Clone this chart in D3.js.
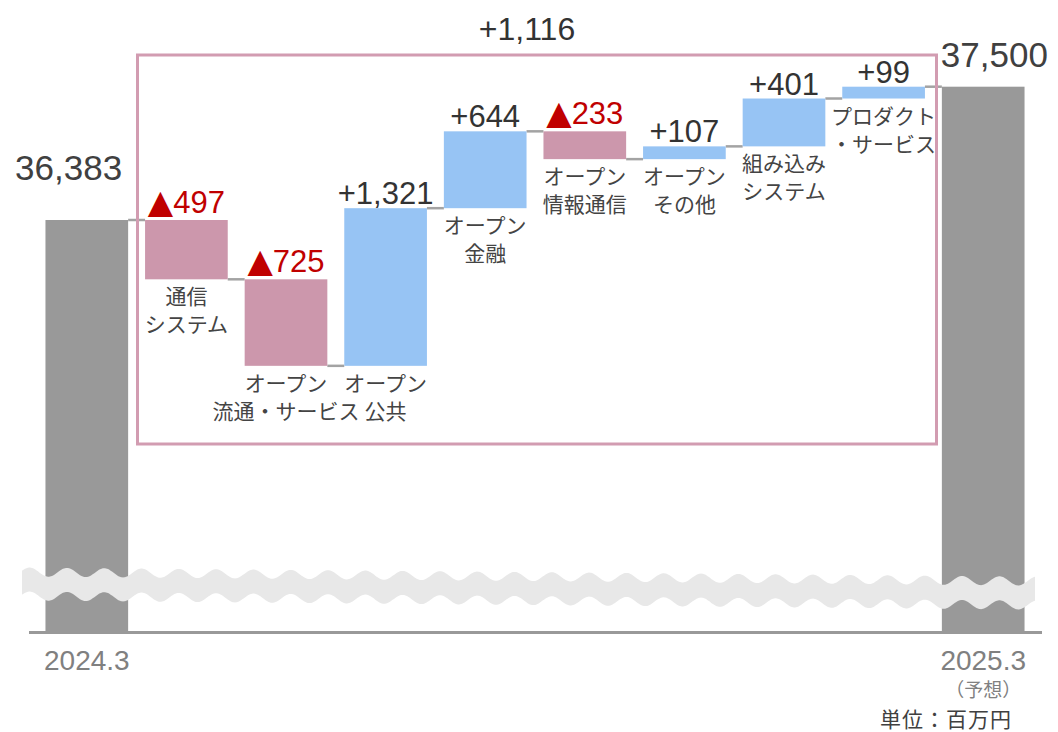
<!DOCTYPE html>
<html><head><meta charset="utf-8">
<script src="https://cdn.jsdelivr.net/npm/d3@7"></script>
<style>body{margin:0;background:#fff}svg{display:block}</style>
</head><body><svg id="c" width="1058" height="732"></svg>
<script>
// ---- data ----
const categories = ["通信\nシステム","オープン\n流通・サービス","オープン\n公共","オープン\n金融","オープン\n情報通信","オープン\nその他","組み込み\nシステム","プロダクト\n・サービス"];
const deltas = [-497, -725, 1321, 644, -233, 107, 401, 99];
const totals = [36383, 37500];
const totalLabels = ["2024.3", "2025.3"];
const totalNotes = ["", "（予想）"];
const changeLabel = "+1,116";
const unitLabel = "単位：百万円";

// ---- layout ----
const svg = d3.select("#c");
const NUM = "'Liberation Sans', Arial, sans-serif";
const JP = "'Noto Sans CJK JP', sans-serif";
const baseY = 632;
const ids = ["start", ...categories, "end"];
const x = d3.scaleBand().domain(ids).range([37, 1033]).paddingInner(0.17).paddingOuter(0.085);
const y = d3.scaleLinear().domain(totals).range([220, 86.7]);
const bw = x.bandwidth();
const fmt = d3.format(",");

let cum = totals[0];
const steps = deltas.map((d, i) => { const s = {id: categories[i], from: cum, to: cum + d, d}; cum += d; return s; });

// total bars
const totalData = [{id: "start", v: totals[0]}, {id: "end", v: totals[1]}];
svg.selectAll("rect.total").data(totalData).join("rect").attr("class", "total")
  .attr("x", d => x(d.id)).attr("width", bw)
  .attr("y", d => y(d.v)).attr("height", d => baseY - y(d.v))
  .attr("fill", "#999999");

// break band
const bandTop = px => 572 + 0.009 * (px - 22) - 4.5 * Math.cos(2 * Math.PI * (px - 440) / 37.3);
svg.append("path")
  .datum(d3.range(22, 1035.5, 1))
  .attr("d", d3.area().x(d => d).y0(bandTop).y1(d => bandTop(d) + 24).curve(d3.curveLinear))
  .attr("fill", "#e8e8e8");

// connectors
const levels = [totals[0], ...steps.map(s => s.to)];
const conn = levels.map((lv, i) => ({a: ids[i], b: ids[i + 1], lv}));
svg.selectAll("line.conn").data(conn).join("line").attr("class", "conn")
  .attr("x1", d => x(d.a) + bw).attr("x2", d => x(d.b))
  .attr("y1", d => y(d.lv)).attr("y2", d => y(d.lv))
  .attr("stroke", "#a3a3a3").attr("stroke-width", 2.5);

// delta bars
svg.selectAll("rect.step").data(steps).join("rect").attr("class", "step")
  .attr("x", d => x(d.id)).attr("width", bw)
  .attr("y", d => y(Math.max(d.from, d.to)))
  .attr("height", d => Math.abs(y(d.from) - y(d.to)))
  .attr("fill", d => d.d < 0 ? "#cc97ac" : "#97c4f4");

// axis line
svg.append("line").attr("x1", 29).attr("x2", 1042).attr("y1", baseY + 0.5).attr("y2", baseY + 0.5)
  .attr("stroke", "#999").attr("stroke-width", 3);

// x axis (only totals labeled)
const ax = svg.append("g").attr("transform", `translate(0,${baseY})`)
  .call(d3.axisBottom(x).tickValues(["start", "end"]).tickSize(0)
    .tickFormat(d => d === "start" ? totalLabels[0] : totalLabels[1]));
ax.select(".domain").remove();
ax.selectAll("text").attr("y", 38).attr("dy", null)
  .attr("font-family", NUM).attr("font-size", 28).attr("fill", "#808080");
svg.append("text").attr("x", x("end") + bw / 2).attr("y", 697).attr("text-anchor", "middle")
  .attr("font-family", JP).attr("font-size", 19).attr("fill", "#808080").text(totalNotes[1]);

// pink frame
svg.append("rect").attr("x", 137.5).attr("y", 55).attr("width", 799).attr("height", 389)
  .attr("fill", "none").attr("stroke", "#d29cb1").attr("stroke-width", 3);

// delta value labels
const vl = svg.selectAll("text.val").data(steps).join("text").attr("class", "val")
  .attr("x", d => x(d.id) + bw / 2)
  .attr("y", d => y(Math.max(d.from, d.to)) - (d.d < 0 ? 7 : 4))
  .attr("text-anchor", "middle").attr("font-family", NUM).attr("font-size", 31)
  .attr("fill", d => d.d < 0 ? "#c00000" : "#333333");
vl.filter(d => d.d < 0).append("tspan").attr("font-family", "'DejaVu Sans', sans-serif").attr("font-size", 33).text("▲");
vl.append("tspan").text(d => (d.d < 0 ? "" : "+") + fmt(Math.abs(d.d)));

// category labels
const cl = svg.selectAll("text.cat").data(steps).join("text").attr("class", "cat")
  .attr("x", d => x(d.id) + bw / 2)
  .attr("y", d => y(Math.min(d.from, d.to)) + 25)
  .attr("text-anchor", "middle").attr("font-family", JP).attr("font-size", 21).attr("fill", "#444");
cl.selectAll("tspan").data(d => d.id.split("\n").map((t, i) => ({t, i, px: x(d.id) + bw / 2})))
  .join("tspan").attr("x", d => d.px).attr("dy", d => d.i === 0 ? 0 : 28).text(d => d.t);

// total value labels
svg.append("text").attr("x", x("start") + bw - 6).attr("y", y(totals[0]) - 40).attr("text-anchor", "end")
  .attr("font-family", NUM).attr("font-size", 35).attr("fill", "#404040").text(fmt(totals[0]));
svg.append("text").attr("x", x("end") - 1).attr("y", y(totals[1]) - 20).attr("text-anchor", "start")
  .attr("font-family", NUM).attr("font-size", 35).attr("fill", "#404040").text(fmt(totals[1]));

// change label
svg.append("text").attr("x", 527).attr("y", 40).attr("text-anchor", "middle")
  .attr("font-family", NUM).attr("font-size", 32).attr("fill", "#333").text(changeLabel);

// unit
svg.append("text").attr("x", 1012).attr("y", 727).attr("text-anchor", "end")
  .attr("font-family", JP).attr("font-size", 21).attr("letter-spacing", 1).attr("fill", "#404040").text(unitLabel);
</script>
</body></html>
